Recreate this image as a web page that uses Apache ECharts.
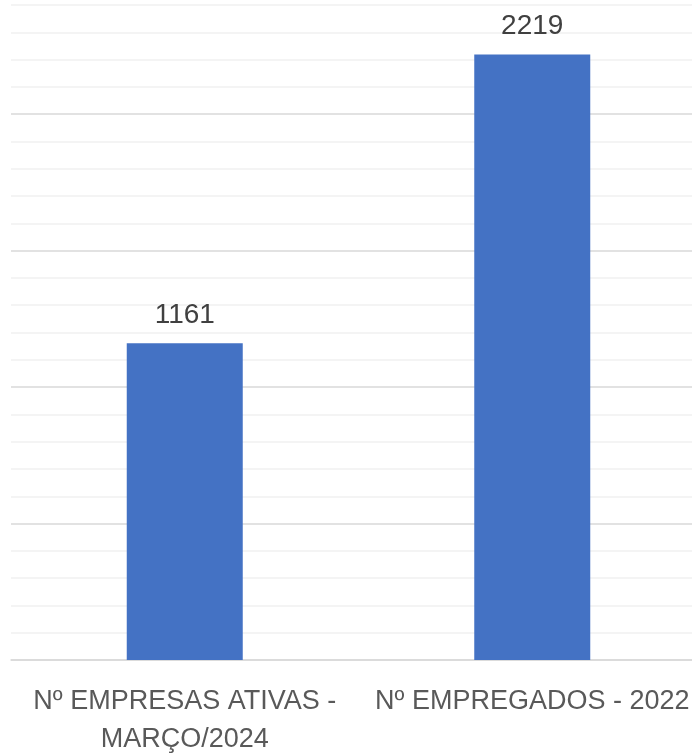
<!DOCTYPE html>
<html>
<head>
<meta charset="utf-8">
<script src="https://cdn.jsdelivr.net/npm/echarts@6/dist/echarts.min.js"></script>
<style>html,body{margin:0;padding:0;background:#fff;}#c{width:692px;height:754px;}</style>
</head>
<body>
<div id="c"></div>
<script>
const categories = ['Nº EMPRESAS ATIVAS -\nMARÇO/2024', 'Nº EMPREGADOS - 2022'];
const values = [1161, 2219];
const yMax = 2400;
const yStep = 100;

const chart = echarts.init(document.getElementById('c'), null, {renderer: 'canvas'});
chart.setOption({
  animation: false,
  grid: {left: 11, right: -14, top: 5, bottom: 94, containLabel: false, outerBoundsMode: 'none'},
  xAxis: {
    type: 'category',
    data: categories,
    axisLine: {show: true, lineStyle: {color: '#d9d9d9', width: 1.5}},
    axisTick: {show: false},
    axisLabel: {
      interval: 0,
      margin: 23,
      color: '#595959',
      fontFamily: 'Liberation Sans Narrow, Liberation Sans, sans-serif',
      fontSize: 27,
      lineHeight: 38
    }
  },
  yAxis: {
    type: 'value',
    min: 0,
    max: yMax,
    interval: yStep,
    axisLabel: {show: false},
    axisLine: {show: false},
    axisTick: {show: false},
    splitLine: {show: true, lineStyle: {color: ['#d9d9d9', '#f0f0f0', '#f0f0f0', '#f0f0f0', '#f0f0f0'], width: 1.5}}
  },
  series: [{
    type: 'bar',
    data: values,
    barWidth: 116,
    itemStyle: {color: '#4472C4'},
    label: {
      show: true,
      position: 'top',
      distance: 14,
      color: '#404040',
      fontFamily: 'Liberation Sans Narrow, Liberation Sans, sans-serif',
      fontSize: 28
    }
  }]
});
</script>
</body>
</html>
